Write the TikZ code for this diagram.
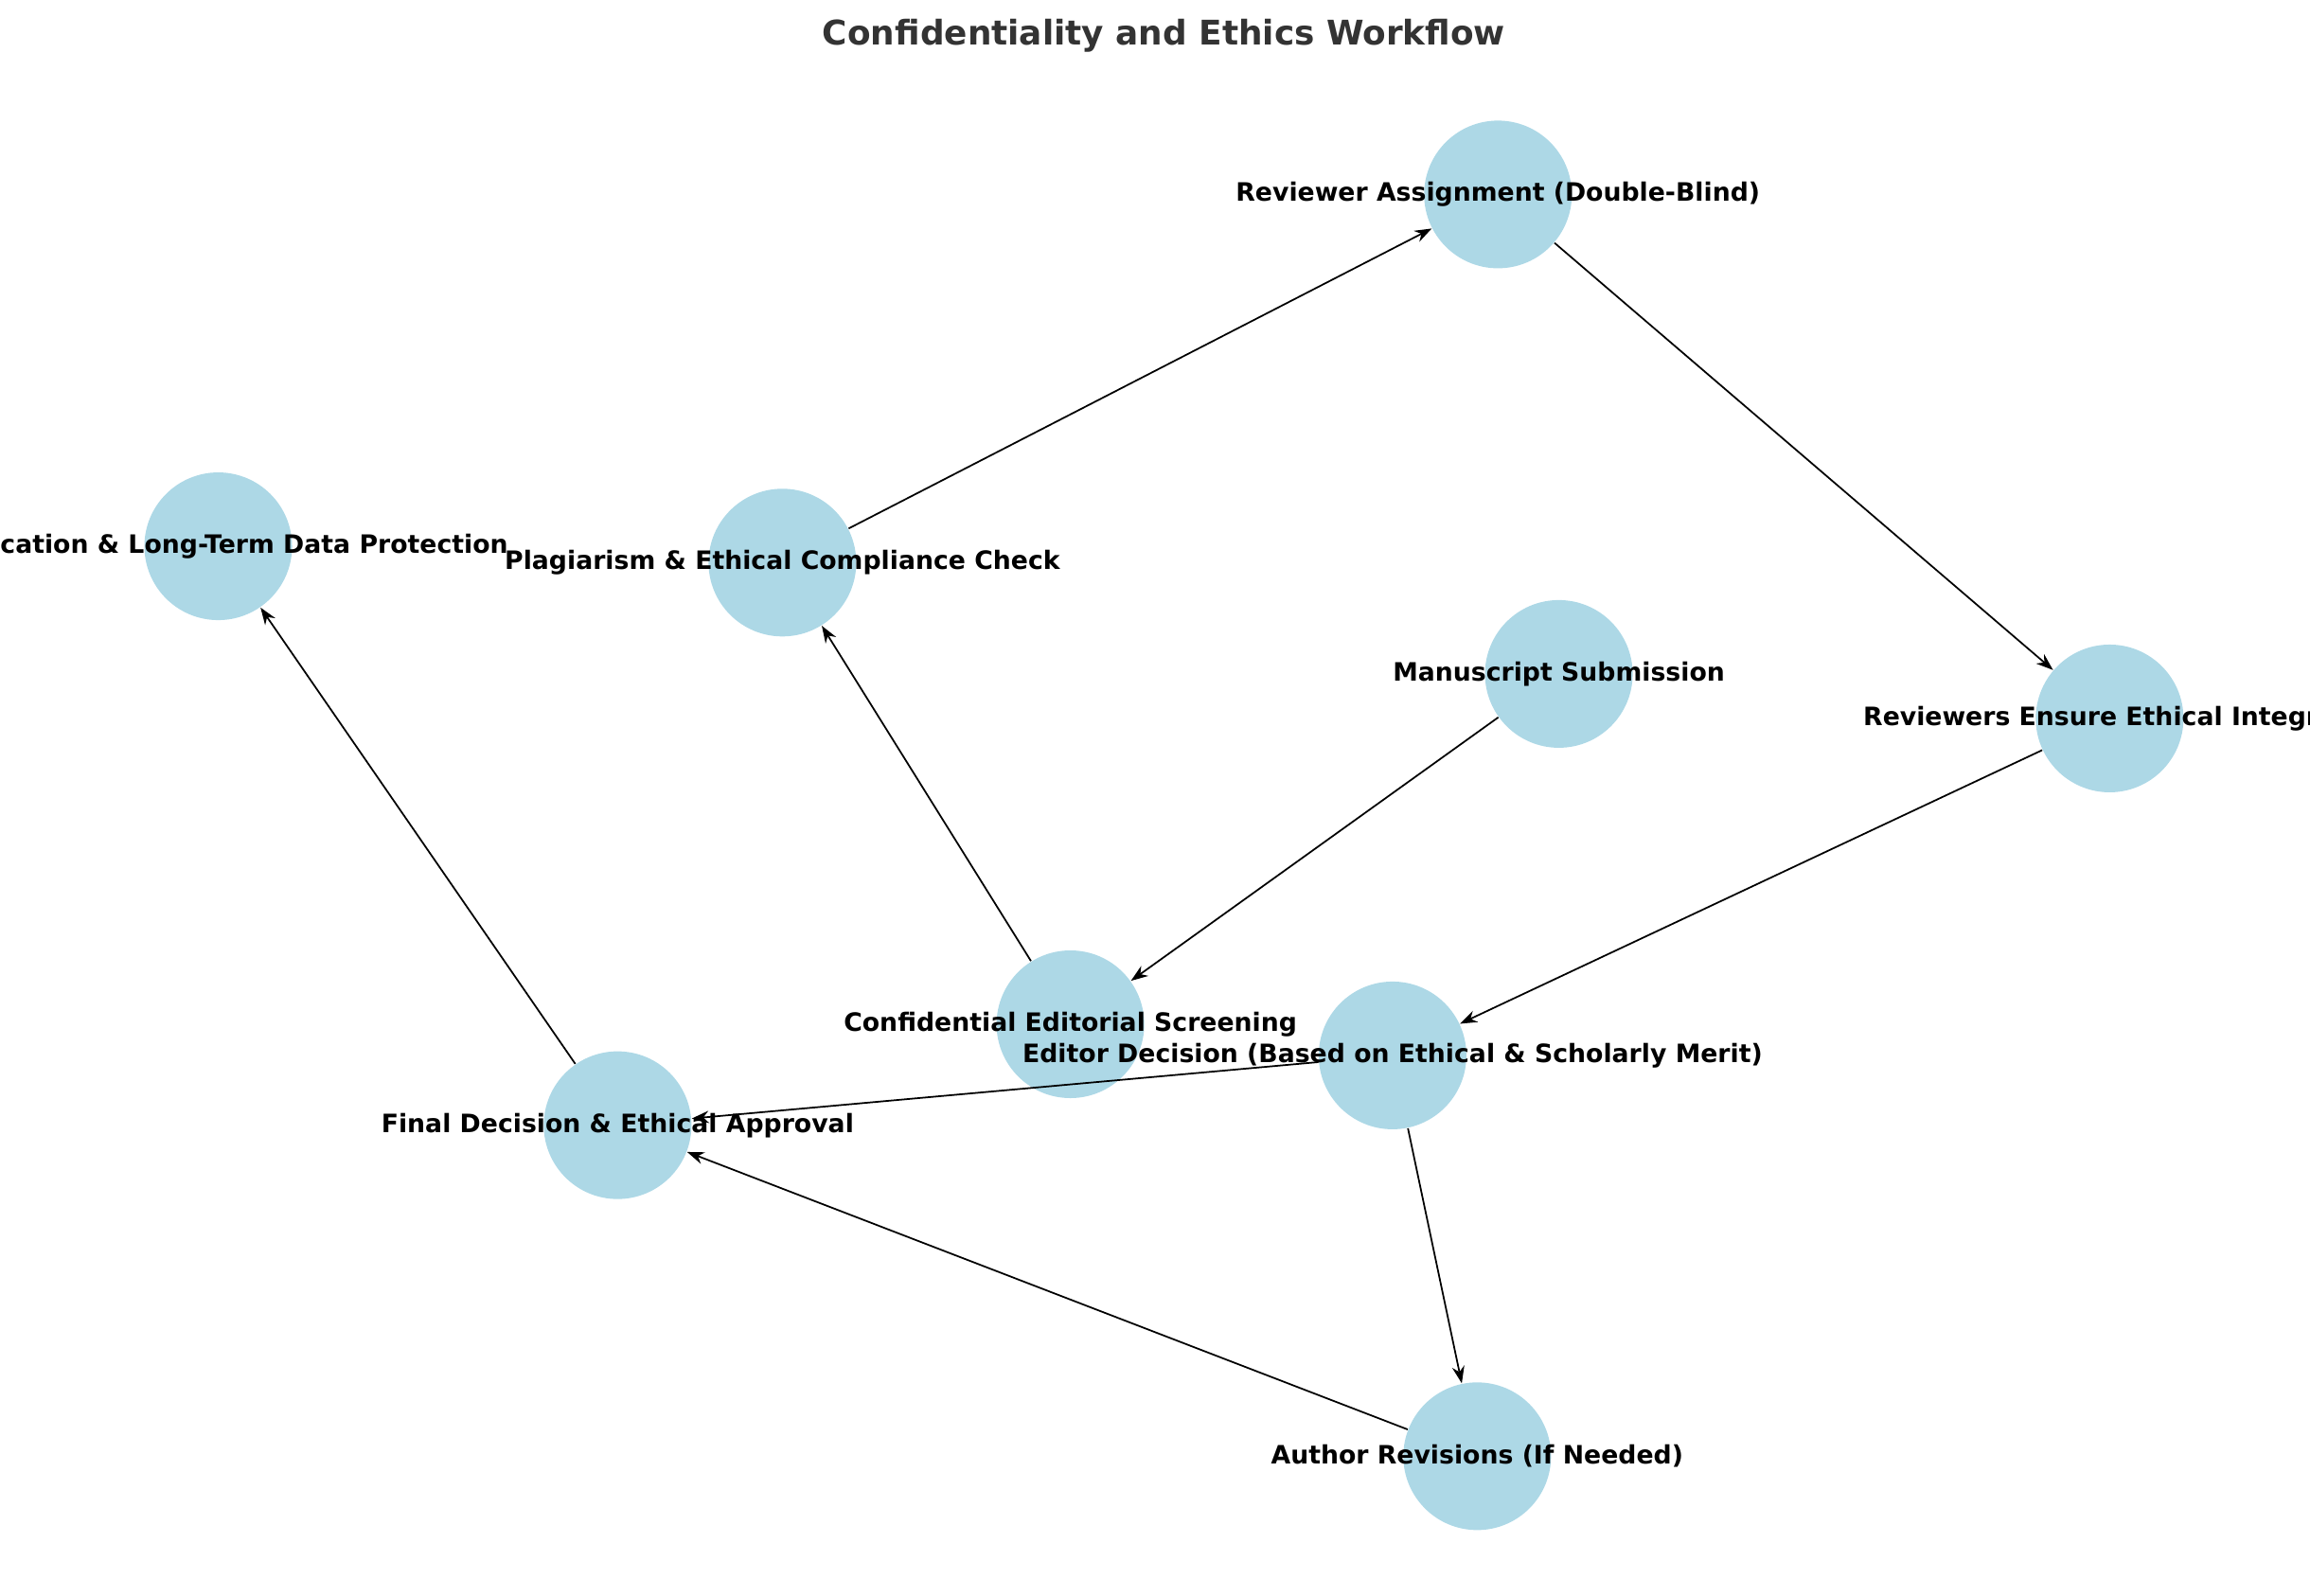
\documentclass[tikz,border=0pt]{standalone}
\usepackage{fontspec}
\setmainfont{DejaVu Sans}
\usetikzlibrary{positioning, arrows.meta}
\definecolor{nodeblue}{HTML}{ADD8E6}
\definecolor{titlegray}{HTML}{333333}
\tikzset{
    stage/.style={circle, fill=nodeblue, minimum size=15.6mm, inner sep=0pt},
    stagetext/.style={font=\bfseries\fontsize{7.6}{9}\selectfont},
    flow/.style={-{Stealth[length=1.8mm,width=1.3mm]}, line width=0.5pt}
}
\begin{document}
\begin{tikzpicture}[x=0.1568mm, y=-0.1568mm]
    \useasboundingbox (0,0) rectangle (1556,1075);
    \clip (0,0) rectangle (1556,1075);
    \node[font=\bfseries\fontsize{10.2}{12}\selectfont, text=titlegray] (title) at (784,24) {Confidentiality and Ethics Workflow};

    % Etape
    \node[stage] (ra) at (1009,131) {};
    \node[stage] (pub) at (147,368) {};
    \node[stage] (pc) at (527,379) {};
    \node[stage] (ms) at (1050,454) {};
    \node[stage] (re) at (1421,484) {};
    \node[stage] (cs) at (721,690) {};
    \node[stage] (ed) at (938,711) {};
    \node[stage] (fd) at (416,758) {};
    \node[stage] (ar) at (995,981) {};

    % Povezave
    \draw[flow] (ms) -- (cs);
    \draw[flow] (cs) -- (pc);
    \draw[flow] (pc) -- (ra);
    \draw[flow] (ra) -- (re);
    \draw[flow] (re) -- (ed);
    \draw[flow] (ed) -- (fd);
    \draw[flow] (ed) -- (ar);
    \draw[flow] (ar) -- (fd);
    \draw[flow] (fd) -- (pub);

    % Oznake
    \node[stagetext] (ra-t) at (ra) {Reviewer Assignment (Double-Blind)};
    \node[stagetext] (pub-t) at (pub) {Publication \& Long-Term Data Protection};
    \node[stagetext] (pc-t) at (pc) {Plagiarism \& Ethical Compliance Check};
    \node[stagetext] (ms-t) at (ms) {Manuscript Submission};
    \node[stagetext] (re-t) at (re) {Reviewers Ensure Ethical Integrity};
    \node[stagetext] (cs-t) at (cs) {Confidential Editorial Screening};
    \node[stagetext] (ed-t) at (ed) {Editor Decision (Based on Ethical \& Scholarly Merit)};
    \node[stagetext] (fd-t) at (fd) {Final Decision \& Ethical Approval};
    \node[stagetext] (ar-t) at (ar) {Author Revisions (If Needed)};
\end{tikzpicture}
\end{document}
